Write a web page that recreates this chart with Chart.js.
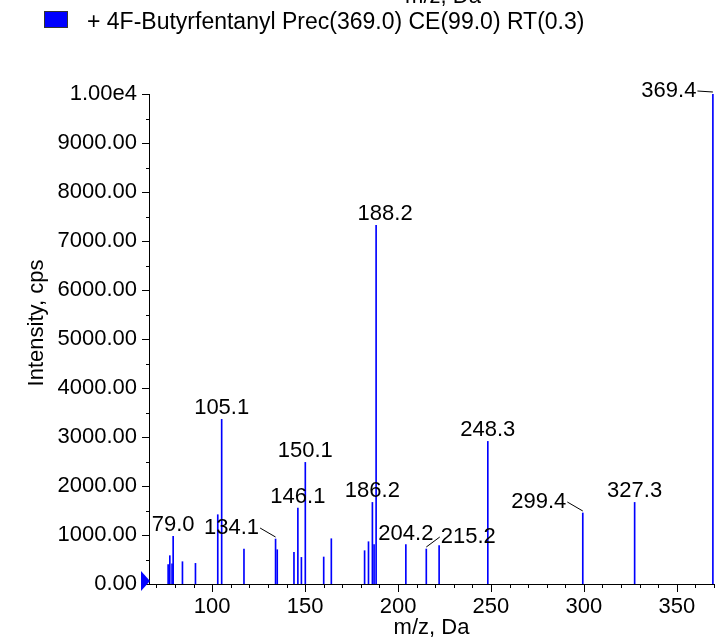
<!DOCTYPE html>
<html>
<head>
<meta charset="utf-8">
<script src="https://cdn.jsdelivr.net/npm/chart.js@4.4.0/dist/chart.umd.min.js"></script>
<style>
html, body { margin: 0; padding: 0; background: #fff; }
#wrap { position: relative; width: 715px; height: 641px; }
</style>
</head>
<body>
<div id="wrap"><canvas id="spectrumChart"></canvas></div>
<script>
// peak list (m/z and intensity in cps)
let mzValues = [76.3, 77.2, 78.4, 79.0, 84.0, 91.0, 103.0, 105.1, 117.1, 134.1, 135.0,
    144.0, 146.1, 148.0, 150.1, 160.0, 164.1, 182.0, 184.1, 186.2, 187.1, 188.2,
    204.2, 215.2, 222.1, 248.3, 299.4, 327.3, 369.4];
let intensities = [394, 578, 414, 972, 455, 421, 1414, 3360, 714, 918, 700,
    645, 1551, 543, 2482, 551, 924, 680, 863, 1665, 802, 7320,
    802, 714, 782, 2910, 1449, 1665, 10000];
let labeledPeaks = [79.0, 105.1, 134.1, 146.1, 150.1, 186.2, 188.2, 204.2, 215.2, 248.3, 299.4, 327.3, 369.4];

let xTicks = [100, 150, 200, 250, 300, 350];
let yTicks = [0, 1000, 2000, 3000, 4000, 5000, 6000, 7000, 8000, 9000, 10000];
let yTickLabels = ["0.00", "1000.00", "2000.00", "3000.00", "4000.00", "5000.00",
    "6000.00", "7000.00", "8000.00", "9000.00", "1.00e4"];

let seriesName = "+ 4F-Butyrfentanyl Prec(369.0) CE(99.0) RT(0.3)";
let xTitle = "m/z, Da";
let yTitle = "Intensity, cps";

const FONT = '"Liberation Sans", Arial, sans-serif';
const BLUE = "rgb(0,0,255)";

// label placement: dx from the peak, baseline gap above the peak top, leader line or not
let labelPlacement = {
    "134.1": { dx: -44, gap: 5, leader: true },
    "188.2": { dx: 9, gap: 5 },
    "215.2": { dx: 42, gap: 6, leader: true },
    "299.4": { dx: -44, gap: 5, leader: true },
    "369.4": { dx: -44, gap: -3, leader: true }
};

let spectrumDecor = {
    id: "spectrumDecor",
    afterDraw(chart) {
        let ctx = chart.ctx;
        let xs = chart.scales.x, ys = chart.scales.y;
        let area = chart.chartArea;
        ctx.save();
        ctx.strokeStyle = "#000";
        ctx.lineWidth = 1;

        // y ticks, major every 1000, minor every 500
        for (let v = 0; v <= 10000; v += 500) {
            let y = Math.round(ys.getPixelForValue(v)) + 0.5;
            let len = v % 1000 === 0 ? 7 : 3;
            ctx.beginPath();
            ctx.moveTo(area.left - len, y);
            ctx.lineTo(area.left, y);
            ctx.stroke();
        }
        // x ticks, major every 50, minor every 10
        for (let v = 70; v <= 370; v += 10) {
            let x = Math.round(xs.getPixelForValue(v)) + 0.5;
            let len = v % 50 === 0 ? 8 : 4;
            ctx.beginPath();
            ctx.moveTo(x, area.bottom);
            ctx.lineTo(x, area.bottom + len);
            ctx.stroke();
        }

        // blue marker at the origin
        let y0 = ys.getPixelForValue(0);
        ctx.fillStyle = BLUE;
        ctx.beginPath();
        ctx.moveTo(area.left - 8, y0 - 13);
        ctx.lineTo(area.left + 1, y0 - 3);
        ctx.lineTo(area.left - 8, y0 + 7);
        ctx.closePath();
        ctx.fill();

        // peak labels
        ctx.font = "22px " + FONT;
        ctx.fillStyle = "#000";
        ctx.textAlign = "center";
        ctx.textBaseline = "alphabetic";
        labeledPeaks.forEach(mz => {
            let i = mzValues.indexOf(mz);
            let txt = mz.toFixed(1);
            let p = labelPlacement[txt] || { dx: 0, gap: 5 };
            let px = xs.getPixelForValue(mz);
            let top = ys.getPixelForValue(intensities[i]);
            let tx = px + p.dx;
            let base = top - p.gap;
            ctx.fillText(txt, tx, base);
            if (p.leader) {
                let w = ctx.measureText(txt).width;
                let sx = p.dx < 0 ? tx + w / 2 + 1 : tx - w / 2 - 1;
                ctx.beginPath();
                ctx.moveTo(sx, base - 6);
                ctx.lineTo(px, top - 2);
                ctx.stroke();
            }
        });

        // axis titles
        ctx.textBaseline = "middle";
        ctx.fillText(xTitle, (area.left + area.right) / 2, 628);
        ctx.save();
        ctx.translate(37, 323);
        ctx.rotate(-Math.PI / 2);
        ctx.fillText(yTitle, 0, 0);
        ctx.restore();

        // cut-off axis title of the plot above
        ctx.textBaseline = "alphabetic";
        ctx.fillText(xTitle, 443, 3);

        // legend
        ctx.fillStyle = BLUE;
        ctx.fillRect(44, 11, 24, 17);
        ctx.strokeStyle = "#333";
        ctx.strokeRect(44.5, 11.5, 23, 16);
        ctx.fillStyle = "#000";
        ctx.textAlign = "left";
        ctx.font = "23px " + FONT;
        ctx.fillText(seriesName, 87, 29);
        ctx.restore();
    }
};

window.onload = () => {
    Chart.defaults.font.family = FONT;
    let ctx = document.getElementById("spectrumChart").getContext("2d");
    new Chart(ctx, {
        type: "bar",
        data: {
            datasets: [{
                label: seriesName,
                data: mzValues.map((m, i) => ({ x: m, y: intensities[i] })),
                backgroundColor: BLUE,
                borderWidth: 0,
                barThickness: 1
            }]
        },
        options: {
            responsive: true,
            maintainAspectRatio: false,
            animation: false,
            layout: { padding: { left: 0, top: 94, right: 1, bottom: 0 } },
            plugins: { legend: { display: false }, tooltip: { enabled: false } },
            scales: {
                x: {
                    type: "linear",
                    min: 66,
                    max: 370,
                    offset: false,
                    afterBuildTicks: s => { s.ticks = xTicks.map(v => ({ value: v })); },
                    afterFit: s => { s.height = 57; },
                    grid: { display: false, drawTicks: false },
                    border: { display: true, color: "#000", width: 1 },
                    ticks: {
                        color: "#000",
                        font: { size: 22 },
                        padding: 10,
                        maxRotation: 0,
                        autoSkip: false,
                        callback: v => String(v)
                    }
                },
                y: {
                    min: 0,
                    max: 10000,
                    afterBuildTicks: s => { s.ticks = yTicks.map(v => ({ value: v })); },
                    afterFit: s => { s.width = 149; },
                    grid: { display: false, drawTicks: false },
                    border: { display: true, color: "#000", width: 1 },
                    ticks: {
                        color: "#000",
                        font: { size: 22 },
                        padding: 12,
                        autoSkip: false,
                        callback: v => yTickLabels[yTicks.indexOf(v)]
                    }
                }
            }
        },
        plugins: [spectrumDecor]
    });
};
</script>
</body>
</html>
